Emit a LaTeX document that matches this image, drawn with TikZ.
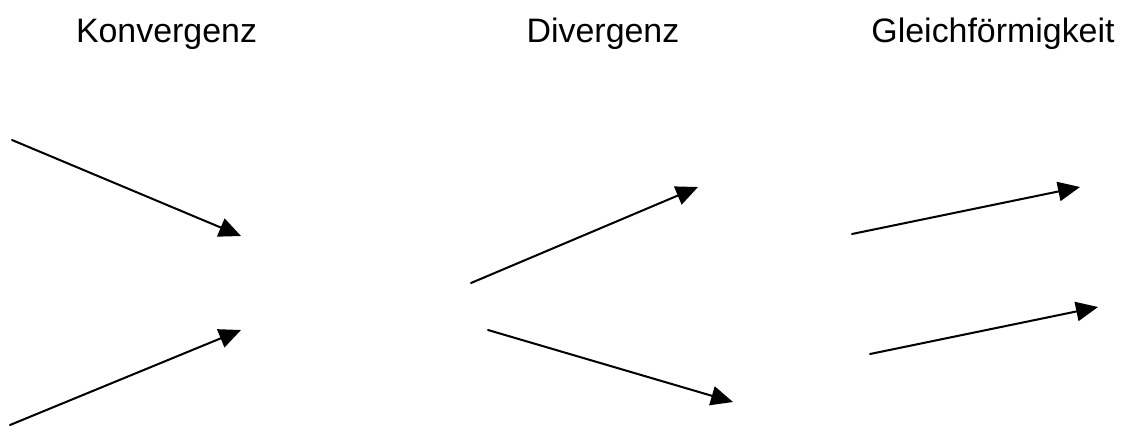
\documentclass[tikz,border=0pt]{standalone}
\usepackage{fontspec}
\setmainfont{Liberation Sans}
\usepackage{tikz}
\usetikzlibrary{calc, arrows.meta}
\usepackage{tkz-euclide}

\begin{document}
\begin{tikzpicture}[x=0.02cm, y=0.02cm]
                \useasboundingbox (0,0) rectangle (1125,-426);
                \tikzset{titel/.style={anchor=base, font=\fontsize{19.3}{23}\selectfont},
                         pfeil/.style={black, line width=1.15pt, -{Triangle[length=12.5pt, width=11pt]}}}
                \node[titel] (konv) at (166.5,-42) {Konvergenz};
                \node[titel] (div) at (603,-42) {Divergenz};
                \node[titel] (gleich) at (993,-42) {Gleichförmigkeit};
                \tkzDefPoints{12/-140/A, 241/-236/B, 10/-425/C, 241/-330/D}
                \tkzDefPoints{471/-283/E, 698/-187/F, 488/-330/G, 733/-402/H}
                \tkzDefPoints{852/-234/I, 1080/-187/J, 870/-354/K, 1098/-307/L}
                \tkzDrawSegments[pfeil](A,B C,D E,F G,H I,J K,L)
            \end{tikzpicture}
\end{document}
